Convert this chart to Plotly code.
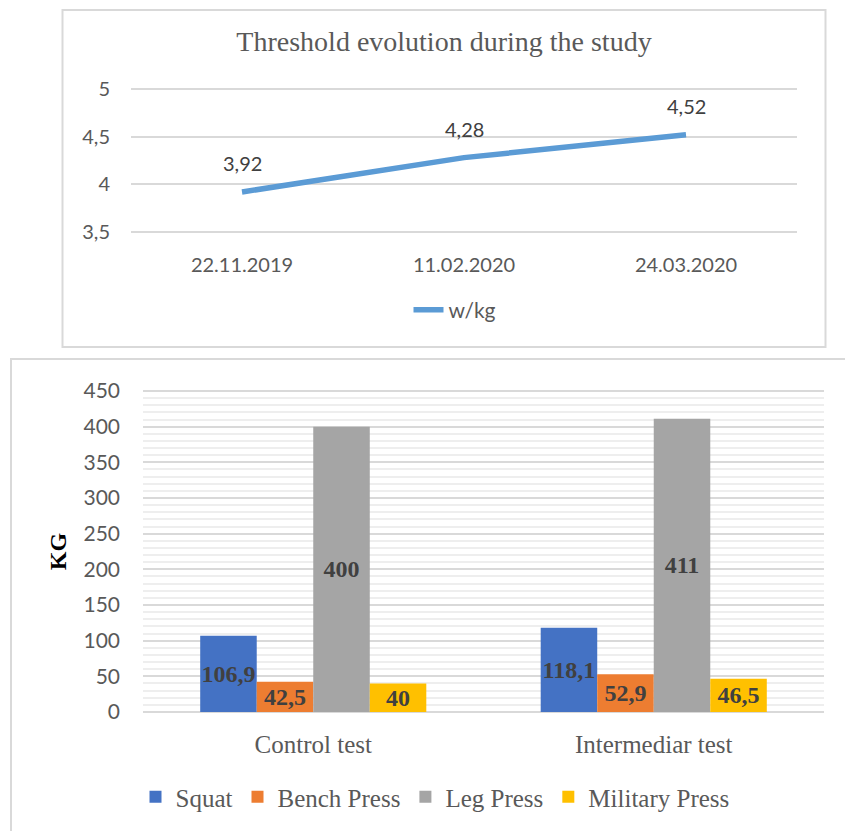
import plotly.graph_objects as go

# ---- threshold data (top chart) ----
dates = ["22.11.2019", "11.02.2020", "24.03.2020"]
wkg = [3.92, 4.28, 4.52]

# ---- strength tests (bottom chart) ----
tests = ["Control test", "Intermediar test"]
squat = [106.9, 118.1]
bench_press = [42.5, 52.9]
leg_press = [400, 411]
military_press = [40, 46.5]

W, H = 845, 831


def px_x(p):
    return p / W


def px_y(p):
    return 1 - p / H


def fmt(v):
    s = f"{v:.2f}".rstrip("0").rstrip(".")
    return s.replace(".", ",")


def padded(lo, hi, p_lo, p_hi, pad):
    """Axis range widened by `pad` data units, with the matching pixel domain
    so that lo sits at pixel p_lo and hi at pixel p_hi."""
    k = (p_lo - p_hi) / (hi - lo)
    return [lo - pad, hi + pad], [px_y(p_lo + pad * k), px_y(p_hi - pad * k)]


GRID = "#d9d9d9"
TXT = "#595959"
SANS = "Lato"
SERIF = "Liberation Serif"

fig = go.Figure()

# top line chart
fig.add_trace(go.Scatter(
    x=dates, y=wkg, mode="lines", name="w/kg",
    line=dict(color="#5b9bd5", width=5.5),
    xaxis="x", yaxis="y", legend="legend", showlegend=True,
))

# bottom grouped bar chart
series = [
    ("Squat", squat, "#4472c4"),
    ("Bench Press", bench_press, "#ed7d31"),
    ("Leg Press", leg_press, "#a5a5a5"),
    ("Military Press", military_press, "#ffc000"),
]
for name, vals, color in series:
    fig.add_trace(go.Bar(
        x=tests, y=vals, name=name,
        marker=dict(color=color, line=dict(width=0)),
        text=[fmt(v) for v in vals],
        textposition="inside", insidetextanchor="middle", textangle=0,
        constraintext="none",
        textfont=dict(family=SERIF, size=24, color="#404040", weight="bold"),
        xaxis="x2", yaxis="y2", legend="legend2", showlegend=True,
    ))

# value labels above the line points
annotations = []
for d, v in zip(dates, wkg):
    annotations.append(dict(
        x=d, y=v, xref="x", yref="y", text=fmt(v), showarrow=False,
        yshift=29, font=dict(family=SANS, size=20, color="#404040"),
    ))

# chart frames
shapes = [
    dict(type="rect", xref="paper", yref="paper",
         x0=px_x(62.5), x1=px_x(825.5), y0=px_y(347), y1=px_y(10),
         line=dict(color=GRID, width=2), fillcolor="rgba(0,0,0,0)", layer="below"),
    dict(type="rect", xref="paper", yref="paper",
         x0=px_x(11), x1=px_x(860), y0=px_y(850), y1=px_y(359),
         line=dict(color=GRID, width=2), fillcolor="rgba(0,0,0,0)", layer="below"),
]

y1_range, y1_dom = padded(3.5, 5, 232, 89, 0.04)
y2_range, y2_dom = padded(0, 450, 712, 391, 5.0)

fig.update_layout(
    width=W, height=H, autosize=False,
    margin=dict(l=0, r=0, t=0, b=0, pad=0, autoexpand=False),
    paper_bgcolor="white", plot_bgcolor="white",
    separators=",.",
    showlegend=True,
    title=dict(text="Threshold evolution during the study",
               x=px_x(444), xanchor="center", y=px_y(41), yanchor="middle",
               automargin=False,
               font=dict(family=SERIF, size=28, color=TXT)),
    xaxis=dict(domain=[px_x(131), px_x(797)], type="category",
               range=[-0.5, 2.5], showgrid=False, zeroline=False,
               showline=False, ticks="", ticklabelstandoff=15,
               automargin=False,
               tickfont=dict(family=SANS, size=20, color=TXT)),
    yaxis=dict(domain=y1_dom, range=y1_range, dtick=0.5,
               tick0=3.5, showgrid=True, gridcolor=GRID, gridwidth=2,
               zeroline=False, showline=False, ticks="",
               ticklabelstandoff=20, automargin=False,
               tickfont=dict(family=SANS, size=20, color=TXT)),
    xaxis2=dict(domain=[px_x(143), px_x(824)], type="category",
                range=[-0.5, 1.5], showgrid=False, zeroline=False,
                showline=False, ticks="", ticklabelstandoff=11,
                automargin=False,
                tickfont=dict(family=SERIF, size=25, color=TXT),
                anchor="y2"),
    yaxis2=dict(domain=y2_dom, range=y2_range, dtick=50, tick0=0,
                showgrid=True, gridcolor=GRID, gridwidth=2,
                minor=dict(dtick=10, tick0=0, showgrid=True,
                           gridcolor="#eeeeee", gridwidth=1.5),
                zeroline=False, showline=False, ticks="",
                ticklabelstandoff=22, automargin=False,
                tickfont=dict(family=SANS, size=21, color=TXT),
                title=dict(text="KG", standoff=10,
                           font=dict(family=SERIF, size=24, color="black",
                                     weight="bold")),
                anchor="x2"),
    barmode="group", bargap=0.336, bargroupgap=0,
    uniformtext=dict(minsize=24, mode="show"),
    legend=dict(orientation="h", x=px_x(455), xanchor="center",
                y=px_y(310), yanchor="middle", bgcolor="rgba(0,0,0,0)",
                visible=True,
                font=dict(family=SANS, size=21, color=TXT)),
    legend2=dict(orientation="h", x=px_x(435), xanchor="center",
                 y=px_y(797), yanchor="middle", bgcolor="rgba(0,0,0,0)",
                 itemwidth=30, visible=True,
                 font=dict(family=SERIF, size=25, color=TXT)),
    shapes=shapes,
    annotations=annotations,
)

fig.write_html("out.html")
